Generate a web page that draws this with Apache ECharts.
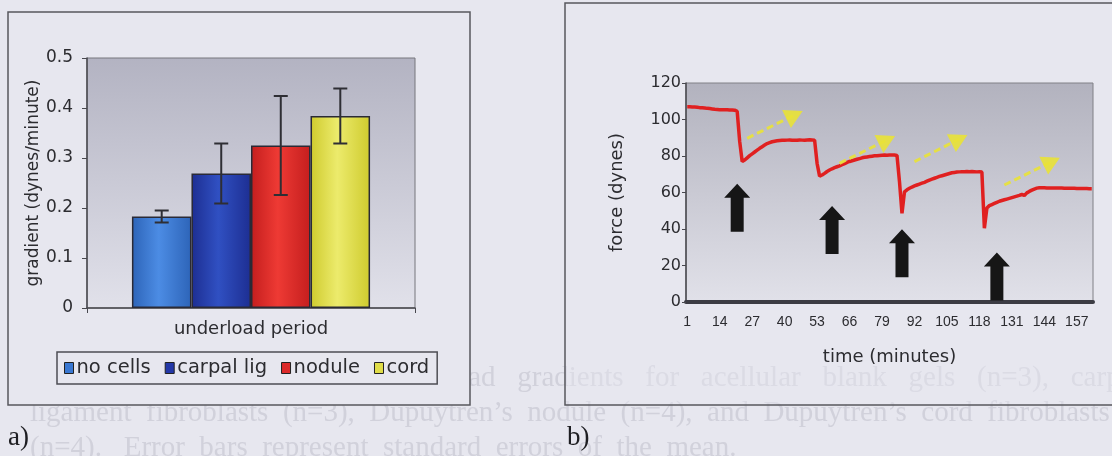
<!DOCTYPE html>
<html>
<head>
<meta charset="utf-8">
<script src="https://cdn.jsdelivr.net/npm/echarts@6/dist/echarts.min.js"></script>
<style>
  html, body { margin: 0; padding: 0; background: #e7e7ef; }
  #chart { width: 1112px; height: 456px; }
</style>
</head>
<body>
<div id="chart"></div>
<script>
// ---- panel a: mean underload gradients ----
const periodLabel = ['underload period'];
const cellTypes = ['no cells', 'carpal lig', 'nodule', 'cord'];
const gradientMeans = [0.183, 0.269, 0.325, 0.384];
const gradientErrors = [0.012, 0.060, 0.099, 0.055];
const gradientTicks = [0, 0.1, 0.2, 0.3, 0.4, 0.5];

// ---- panel b: force trace over time ----
const minuteCount = 163;
const minuteLabels = Array.from({ length: minuteCount }, (_, i) => String(i + 1));
const forceDynes = [
  107, 107, 106.9, 106.8, 106.7, 106.5, 106.4, 106.3, 106.1, 106,
  105.8, 105.6, 105.5, 105.4, 105.4, 105.3, 105.3, 105.2, 105.2, 105.1,
  104.5, 88, 77, 77.8, 79, 80.2, 81.2, 82.2, 83.2, 84.2,
  85.1, 86, 86.8, 87.3, 87.8, 88.1, 88.3, 88.5, 88.6, 88.6,
  88.7, 88.8, 88.6, 88.7, 88.6, 88.8, 88.7, 88.6, 88.8, 88.9,
  88.8, 88.7, 76, 69, 69.6, 70.5, 71.5, 72.3, 73, 73.6,
  74.1, 74.6, 75.2, 75.8, 76.5, 77, 77.4, 77.8, 78.2, 78.6,
  79, 79.3, 79.5, 79.7, 79.9, 80.1, 80.2, 80.3, 80.4, 80.5,
  80.4, 80.5, 80.6, 80.5, 80.3, 66, 48.6, 60.4, 61.5, 62.3,
  63, 63.6, 64.1, 64.6, 65.1, 65.6, 66.2, 66.8, 67.3, 67.8,
  68.3, 68.8, 69.2, 69.6, 70, 70.4, 70.8, 71, 71.2, 71.3,
  71.4, 71.4, 71.5, 71.4, 71.5, 71.4, 71.3, 71.4, 71.2, 40.4,
  51.5, 52.8, 53.4, 54, 54.6, 55.2, 55.6, 56, 56.4, 56.8,
  57.2, 57.6, 58, 58.4, 58.9, 58.4, 59.8, 60.6, 61.3, 61.9,
  62.4, 62.6, 62.6, 62.6, 62.5, 62.5, 62.5, 62.4, 62.4, 62.4,
  62.4, 62.3, 62.3, 62.3, 62.3, 62.3, 62.2, 62.2, 62.2, 62.2,
  62.2, 62.1, 62.1
];
// load steps: [minute, force at arrow centre]
const loadStepArrows = [[21, 51.7], [59, 39.5], [87, 26.7], [125, 14]];
// recovery trends: [[start minute, start force], [end minute, end force]]
const recoveryArrows = [
  [[25, 89.7], [44, 102.5]],
  [[62, 76.0], [81, 88.8]],
  [[92, 76.9], [110, 89.3]],
  [[128, 64.1], [147, 76.9]]
];
const forceTicks = { min: 0, max: 120, step: 20 };
const minuteLabelStep = 13;

// caption text set justified, so word gaps are widened
const captionLines = [
  'Figure   4.13:    Mean   peak   underload   gradients   for   acellular   blank   gels   (n=3),   carpal',
  'ligament  fibroblasts  (n=3),  Dupuytren\u2019s  nodule  (n=4),  and  Dupuytren\u2019s  cord  fibroblasts',
  '(n=4).   Error  bars  represent  standard  errors  of  the  mean.'
];

const SANS = '"DejaVu Sans", Arial, sans-serif';
const SERIF = '"Liberation Serif", "DejaVu Serif", serif';
const INK = '#2c2c30';
const PAGE = '#e7e7ef';

function cylinder(edge, mid) {
  return {
    type: 'linear', x: 0, y: 0, x2: 1, y2: 0,
    colorStops: [
      { offset: 0, color: edge },
      { offset: 0.45, color: mid },
      { offset: 1, color: edge }
    ]
  };
}
const barFills = [
  cylinder('#2d64b8', '#4c8ce4'),
  cylinder('#1d2e92', '#3050c2'),
  cylinder('#c41e1e', '#ee3a34'),
  cylinder('#cfcb2e', '#eceb6c')
];
const legendColors = ['#3a78d2', '#2438a8', '#dc2a2a', '#e0dd48'];

function plotShade(top, bottom) {
  return {
    type: 'linear', x: 0, y: 0, x2: 0, y2: 1,
    colorStops: [{ offset: 0, color: top }, { offset: 1, color: bottom }]
  };
}

const CATEGORY_GAP = 0.274;

const barSeries = cellTypes.map((name, i) => ({
  name,
  type: 'bar',
  xAxisIndex: 0,
  yAxisIndex: 0,
  data: [gradientMeans[i]],
  barGap: '0%',
  barCategoryGap: (CATEGORY_GAP * 100) + '%',
  itemStyle: { color: barFills[i], borderColor: '#2a2a36', borderWidth: 1.5 },
  z: 3
}));

const errorSeries = {
  type: 'custom',
  xAxisIndex: 0,
  yAxisIndex: 0,
  z: 5,
  silent: true,
  encode: { x: 0, y: [1, 2] },
  data: cellTypes.map((_, i) => [0, gradientMeans[i] - gradientErrors[i], gradientMeans[i] + gradientErrors[i], i]),
  renderItem(params, api) {
    const idx = api.value(3);
    const centre = api.coord([0, 0]);
    const band = api.size([1, 0])[0];
    const barW = band * (1 - CATEGORY_GAP) / cellTypes.length;
    const x = centre[0] + (idx - (cellTypes.length - 1) / 2) * barW;
    const lo = api.coord([0, api.value(1)])[1];
    const hi = api.coord([0, api.value(2)])[1];
    const cap = 7;
    const st = { stroke: '#2e2e34', lineWidth: 2 };
    return {
      type: 'group',
      children: [
        { type: 'line', shape: { x1: x, y1: lo, x2: x, y2: hi }, style: st },
        { type: 'line', shape: { x1: x - cap, y1: lo, x2: x + cap, y2: lo }, style: st },
        { type: 'line', shape: { x1: x - cap, y1: hi, x2: x + cap, y2: hi }, style: st }
      ]
    };
  }
};

const upArrow = 'path://M13,0 L26,14 L19.5,14 L19.5,48 L6.5,48 L6.5,14 L0,14 Z';

const forceSeries = {
  type: 'line',
  xAxisIndex: 1,
  yAxisIndex: 1,
  data: forceDynes,
  showSymbol: false,
  symbol: 'none',
  lineStyle: { color: '#e02020', width: 3.5 },
  z: 3,
  markPoint: {
    silent: true,
    symbol: upArrow,
    symbolSize: [26, 48],
    itemStyle: { color: '#161616' },
    label: { show: false },
    data: loadStepArrows.map(([m, f]) => ({ coord: [String(m), f] }))
  },
  markLine: {
    silent: true,
    symbol: ['none', 'triangle'],
    symbolSize: [20, 18],
    label: { show: false },
    lineStyle: { color: '#e9e236', width: 3, type: [7, 4], opacity: 0.9 },
    data: recoveryArrows.map(([a, b]) => [
      { coord: [String(a[0]), a[1]] },
      { coord: [String(b[0]), b[1]] }
    ])
  }
};

const option = {
  animation: false,
  backgroundColor: PAGE,
  textStyle: { fontFamily: SANS, color: INK },
  graphic: [
    // faint caption showing through the page
    ...captionLines.map((t, i) => ({
      type: 'text', z: -20, silent: true,
      left: 30, top: 364 + i * 35,
      style: { text: t, fill: '#d1d1db', font: '29px ' + SERIF }
    })),
    // panel frames
    {
      type: 'rect', z: -10, silent: true,
      shape: { x: 8, y: 12, width: 462, height: 393 },
      style: { fill: PAGE, stroke: '#58585e', lineWidth: 1.5 }
    },
    {
      type: 'rect', z: -10, silent: true,
      shape: { x: 565, y: 3, width: 600, height: 402 },
      style: { fill: 'rgba(231,231,239,0.45)', stroke: '#58585e', lineWidth: 1.5 }
    },
    {
      type: 'text', left: 8, top: 424, silent: true,
      style: { text: 'a)', fill: '#1e1e22', font: '27px ' + SERIF }
    },
    {
      type: 'text', left: 567, top: 424, silent: true,
      style: { text: 'b)', fill: '#1e1e22', font: '27px ' + SERIF }
    }
  ],
  legend: {
    data: cellTypes.map((n, i) => ({ name: n, itemStyle: { color: legendColors[i], borderColor: '#222', borderWidth: 1 } })),
    left: 57,
    top: 352,
    padding: [6, 8, 6, 7],
    itemGap: 14,
    itemWidth: 9,
    itemHeight: 11,
    icon: 'rect',
    borderColor: '#4e4e54',
    borderWidth: 1.5,
    selectedMode: false,
    textStyle: { fontFamily: SANS, fontSize: 19.5, color: INK, padding: [0, 0, 0, -2] }
  },
  grid: [
    {
      left: 87, top: 58, width: 328, height: 250,
      show: true, backgroundColor: plotShade('#b3b3c2', '#e1e1ea'),
      borderColor: '#76767c', borderWidth: 1
    },
    {
      left: 686, top: 83, width: 407, height: 219,
      show: true, backgroundColor: plotShade('#b2b2be', '#e1e1e9'),
      borderColor: '#808086', borderWidth: 1
    }
  ],
  xAxis: [
    {
      gridIndex: 0, type: 'category', data: periodLabel,
      axisLine: { lineStyle: { color: '#48484e', width: 1.5 } },
      axisTick: { show: true, length: 5, lineStyle: { color: '#48484e' } },
      axisLabel: { fontSize: 18, color: INK, margin: 12, fontFamily: SANS }
    },
    {
      gridIndex: 1, type: 'category', data: minuteLabels, boundaryGap: true,
      axisLine: { lineStyle: { color: '#3c3c44', width: 4 } },
      axisTick: { show: false },
      axisLabel: { interval: minuteLabelStep - 1, fontSize: 14, color: INK, margin: 13, fontFamily: '"Liberation Sans", Arial, sans-serif' },
      name: 'time (minutes)', nameLocation: 'middle', nameGap: 46,
      nameTextStyle: { fontSize: 18, color: INK, fontFamily: SANS }
    }
  ],
  yAxis: [
    {
      gridIndex: 0, type: 'value',
      min: gradientTicks[0], max: gradientTicks[gradientTicks.length - 1],
      interval: gradientTicks[1] - gradientTicks[0],
      splitLine: { show: false },
      axisLine: { show: true, lineStyle: { color: '#48484e', width: 1.5 } },
      axisTick: { show: true, length: 5, lineStyle: { color: '#48484e' } },
      axisLabel: { fontSize: 17, color: INK, margin: 14, fontFamily: SANS },
      name: 'gradient (dynes/minute)', nameLocation: 'middle', nameRotate: 90, nameGap: 40,
      nameTextStyle: { fontSize: 17, color: INK, fontFamily: SANS }
    },
    {
      gridIndex: 1, type: 'value',
      min: forceTicks.min, max: forceTicks.max, interval: forceTicks.step,
      splitLine: { show: false },
      axisLine: { show: true, lineStyle: { color: '#48484e', width: 1.5 } },
      axisTick: { show: true, length: 4, lineStyle: { color: '#48484e' } },
      axisLabel: { fontSize: 16, color: INK, margin: 5, fontFamily: SANS },
      name: 'force (dynes)', nameLocation: 'middle', nameRotate: 90, nameGap: 60,
      nameTextStyle: { fontSize: 18, color: INK, fontFamily: SANS }
    }
  ],
  series: [...barSeries, errorSeries, forceSeries]
};

const chart = echarts.init(document.getElementById('chart'), null, { renderer: 'canvas' });
chart.setOption(option);
</script>
</body>
</html>
